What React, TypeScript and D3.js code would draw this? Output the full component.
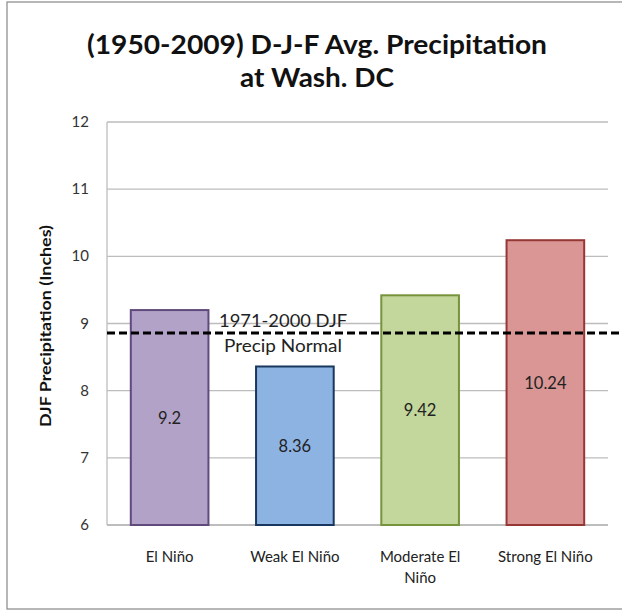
import React from "react";
import * as d3 from "d3";

const categories: string[][] = [["El Niño"], ["Weak El Niño"], ["Moderate El", "Niño"], ["Strong El Niño"]];
const values: number[] = [9.2, 8.36, 9.42, 10.24];
const valueLabels: string[] = ["9.2", "8.36", "9.42", "10.24"];
const fills: string[] = ["#B3A2C7", "#8DB3E2", "#C3D69B", "#D99694"];
const strokes: string[] = ["#604A7B", "#17375E", "#77933C", "#953735"];
const yTicks: number[] = [6, 7, 8, 9, 10, 11, 12];
const normalValue = 8.86;
const titleLines: string[] = ["(1950-2009) D-J-F Avg. Precipitation", "at Wash. DC"];
const normalLabel: string[] = ["1971-2000 DJF", "Precip Normal"];
const yTitle = "DJF Precipitation (Inches)";

export default function App() {
  const W = 622, H = 611;
  const left = 107, right = 608, top = 122, bottom = 525;
  const font = "Lato, 'Open Sans', sans-serif";
  const x = d3.scaleBand<number>().domain(d3.range(values.length)).range([left, right]).paddingInner(0.38).paddingOuter(0.19);
  const y = d3.scaleLinear().domain([6, 12]).range([bottom, top]);
  const titleLen = [460, 154];
  const normLen = [128, 118];
  return (
    <svg width={W} height={H} style={{ position: "absolute", left: 0, top: 0, background: "#fff" }}>
      <rect x={7} y={2} width={W + 10} height={607} fill="#fff" stroke="#888" strokeWidth={1.2} />
      {titleLines.map((t, i) => (
        <text key={i} x={317} y={54 + i * 33} textAnchor="middle" fontFamily={font} fontWeight="bold" fontSize={26} fill="#111" textLength={titleLen[i]} lengthAdjust="spacingAndGlyphs">{t}</text>
      ))}
      {yTicks.map((t) => (
        <g key={t}>
          <line x1={left} x2={right} y1={y(t)} y2={y(t)} stroke="#bdbdbd" strokeWidth={t === 6 ? 2 : 1.3} />
          <text x={89} y={y(t) + 5} textAnchor="end" fontFamily={font} fontSize={15} fill="#333">{t}</text>
        </g>
      ))}
      <line x1={left} x2={left} y1={top} y2={bottom} stroke="#bdbdbd" strokeWidth={1.3} />
      <text transform={`translate(51,326) rotate(-90)`} textAnchor="middle" fontFamily={font} fontWeight="bold" fontSize={16} fill="#111" textLength={202} lengthAdjust="spacingAndGlyphs">{yTitle}</text>
      {values.map((v, i) => (
        <g key={i}>
          <rect x={x(i)!} y={y(v)} width={x.bandwidth()} height={y(6) - y(v)} fill={fills[i]} stroke={strokes[i]} strokeWidth={2} />
          <text x={x(i)! + x.bandwidth() / 2} y={(y(v) + y(6)) / 2 + 6} textAnchor="middle" fontFamily={font} fontSize={16.5} fill="#222">{valueLabels[i]}</text>
          {categories[i].map((c, j) => (
            <text key={j} x={x(i)! + x.bandwidth() / 2} y={562 + j * 21} textAnchor="middle" fontFamily={font} fontSize={15} fill="#222">{c}</text>
          ))}
        </g>
      ))}
      <line x1={left} x2={W} y1={y(normalValue)} y2={y(normalValue)} stroke="#000" strokeWidth={3} strokeDasharray="8,4" />
      {normalLabel.map((t, i) => (
        <text key={i} x={283} y={327 + i * 25} textAnchor="middle" fontFamily={font} fontSize={17} fill="#222" textLength={normLen[i]} lengthAdjust="spacingAndGlyphs">{t}</text>
      ))}
    </svg>
  );
}
